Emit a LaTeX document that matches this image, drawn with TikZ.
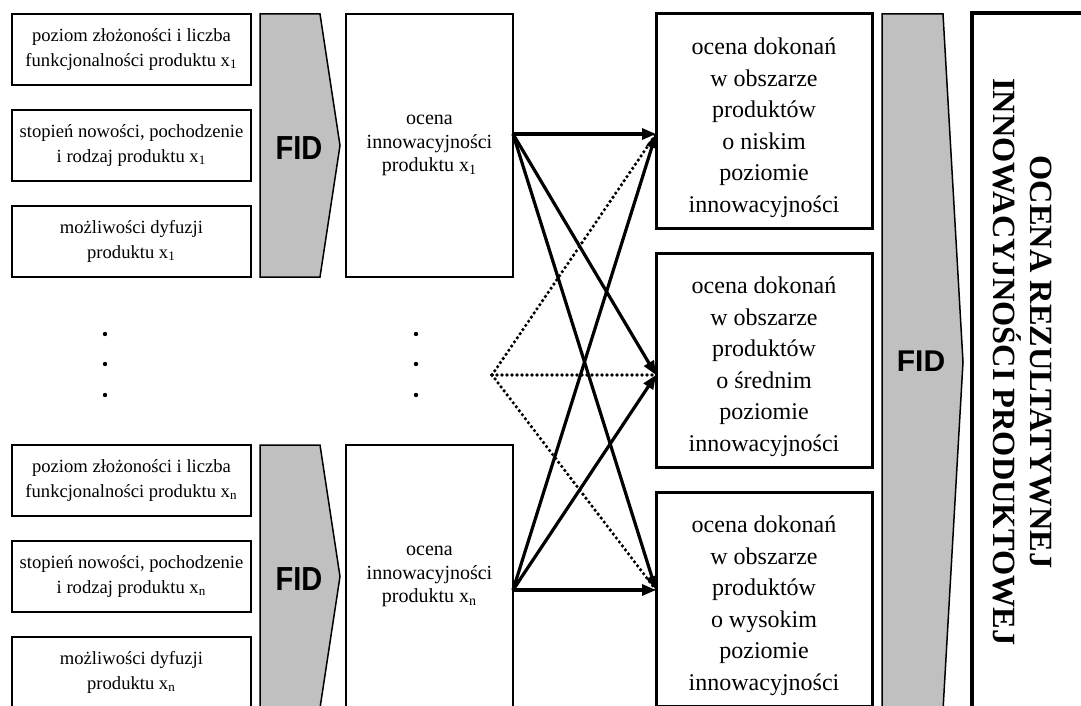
\documentclass[tikz,border=0pt]{standalone}
\usepackage{fontspec}
\setmainfont{Liberation Serif}
\newfontfamily\fidfont{Liberation Sans}
\usepackage{tikz}
\usetikzlibrary{arrows.meta}

\definecolor{fidgray}{RGB}{192,192,192}

\begin{document}
\begin{tikzpicture}[x=0.5pt, y=-0.5pt,
    every node/.style={align=center, inner sep=0pt, outer sep=0pt},
    inbox/.style={draw, line width=0.75pt, minimum width=119.5pt, minimum height=35.5pt, font=\fontsize{9.3}{12.5}\selectfont},
    midbox/.style={draw, line width=0.75pt, minimum width=83.5pt, minimum height=131.5pt, font=\fontsize{10}{11.75}\selectfont},
    levelbox/.style={draw, line width=1.5pt, minimum width=108pt, minimum height=107pt, font=\fontsize{12}{15.75}\selectfont},
    fidshape/.style={draw, line width=0.75pt, fill=fidgray},
    fidlabel/.style={font=\fidfont\bfseries\fontsize{14.5}{14.5}\selectfont},
    dotmark/.style={circle, fill, minimum size=2.2pt},
    link/.style={line width=1.6pt, -{Triangle[length=7pt,width=5.5pt]}},
    dotlink/.style={line width=1.8pt, line cap=round, dash pattern=on 0pt off 2.5pt}]

    \useasboundingbox (0,0) rectangle (1081,706);
    \clip (0,0) rectangle (1081,706);

    % product x_1
    \node[inbox] (a1) at (131.5,49.5) {poziom złożoności i liczba\\funkcjonalności produktu x\textsubscript{1}};
    \node[inbox] (b1) at (131.5,145.5) {stopień nowości, pochodzenie\\i rodzaj produktu x\textsubscript{1}};
    \node[inbox] (c1) at (131.5,241.5) {możliwości dyfuzji\\produktu x\textsubscript{1}};
    \draw[fidshape] (260,14) -- (320,14) -- (340,145.5) -- (320,277) -- (260,277) -- cycle;
    \node[fidlabel] (fid1) at (299,148) {\scalebox{1}[1.15]{FID}};
    \node[midbox] (m1) at (429.5,145.5) {ocena\\innowacyjności\\produktu x\textsubscript{1}};

    % product x_n
    \node[inbox] (an) at (131.5,480.5) {poziom złożoności i liczba\\funkcjonalności produktu x\textsubscript{n}};
    \node[inbox] (bn) at (131.5,576.5) {stopień nowości, pochodzenie\\i rodzaj produktu x\textsubscript{n}};
    \node[inbox] (cn) at (131.5,672.5) {możliwości dyfuzji\\produktu x\textsubscript{n}};
    \draw[fidshape] (260,445) -- (320,445) -- (340,576.5) -- (320,708) -- (260,708) -- cycle;
    \node[fidlabel] (fidn) at (299,579) {\scalebox{1}[1.15]{FID}};
    \node[midbox] (mn) at (429.5,576.5) {ocena\\innowacyjności\\produktu x\textsubscript{n}};

    % dots between
    \node[dotmark] (ld1) at (105,334) {};
    \node[dotmark] (ld2) at (105,364) {};
    \node[dotmark] (ld3) at (105,395) {};
    \node[dotmark] (md1) at (416,334) {};
    \node[dotmark] (md2) at (416,364) {};
    \node[dotmark] (md3) at (416,395) {};

    % levels
    \node[levelbox] (low) at (764,121) {\rule{0pt}{15pt}ocena dokonań\\w obszarze\\produktów\\o niskim\\poziomie\\innowacyjności};
    \node[levelbox] (mid) at (764,360) {\rule{0pt}{15pt}ocena dokonań\\w obszarze\\produktów\\o średnim\\poziomie\\innowacyjności};
    \node[levelbox] (high) at (764,599) {\rule{0pt}{15pt}ocena dokonań\\w obszarze\\produktów\\o wysokim\\poziomie\\innowacyjności};

    \draw[fidshape] (882,14) -- (943,14) -- (963,362) -- (943,710) -- (882,710) -- cycle;
    \node[fidlabel, font=\fidfont\bfseries\fontsize{15}{15}\selectfont] (fidout) at (921,361) {FID};

    \node[draw, line width=2pt, minimum width=59pt, minimum height=349pt] (outbox) at (1031,362) {};
    \node[rotate=-90, font=\bfseries\fontsize{16.2}{18.5}\selectfont] (title) at (1022,362)
        {OCENA REZULTATYWNEJ\\INNOWACYJNOŚCI PRODUKTOWEJ};

    % connectors
    \coordinate (o1) at ([yshift=5.75pt]m1.east);
    \coordinate (on) at ([yshift=-6.75pt]mn.east);
    \coordinate (tlow) at ([yshift=-6.5pt]low.west);
    \coordinate (tmid) at ([yshift=-7.5pt]mid.west);
    \coordinate (thigh) at ([yshift=4.5pt]high.west);
    \coordinate (hub) at ([xshift=-82pt]tmid);

    \draw[dotlink] (hub) -- (tlow);
    \draw[dotlink] (hub) -- (tmid);
    \draw[dotlink] (hub) -- (thigh);

    \draw[link] (o1) -- (tlow);
    \draw[link] (o1) -- (tmid);
    \draw[link] (o1) -- (thigh);
    \draw[link] (on) -- (tlow);
    \draw[link] (on) -- (tmid);
    \draw[link] (on) -- (thigh);
\end{tikzpicture}
\end{document}
